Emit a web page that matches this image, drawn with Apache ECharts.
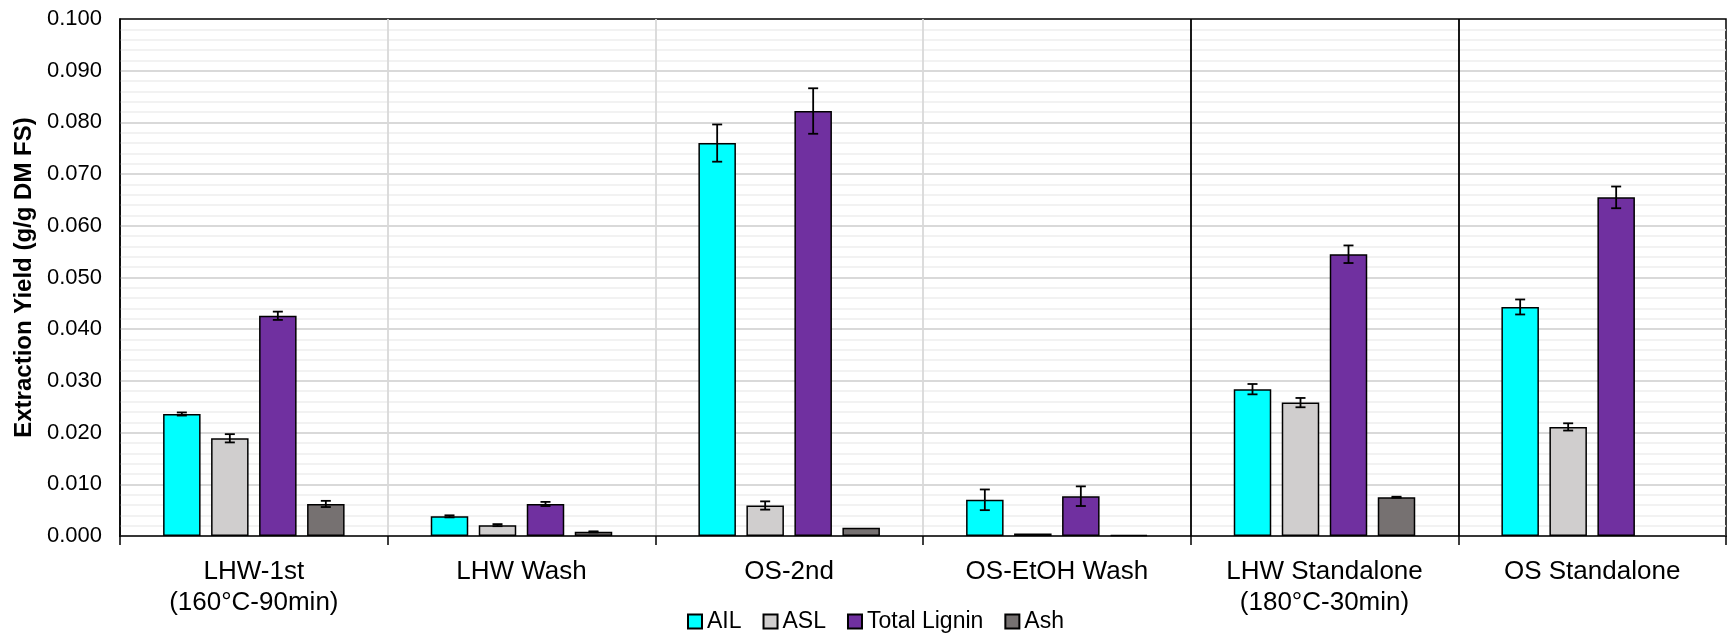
<!DOCTYPE html>
<html>
<head>
<meta charset="utf-8">
<script src="https://cdn.jsdelivr.net/npm/echarts@6/dist/echarts.min.js"></script>
<style>
  html, body { margin: 0; padding: 0; background: #ffffff; }
  #chart { width: 1728px; height: 635px; }
</style>
</head>
<body>
<div id="chart"></div>
<script>
// Process stages (x categories)
const categories = [
  'LHW-1st\n(160°C-90min)',
  'LHW Wash',
  'OS-2nd',
  'OS-EtOH Wash',
  'LHW Standalone\n(180°C-30min)',
  'OS Standalone'
];

// Series names
const seriesNames = ['AIL', 'ASL', 'Total Lignin', 'Ash'];

// Extraction yields (g/g DM FS) and their standard deviations
const ailValues   = [0.0236, 0.0038, 0.0760, 0.0070, 0.0284, 0.0443];
const ailErrors   = [0.0003, 0.0002, 0.0036, 0.0020, 0.0010, 0.00145];
const aslValues   = [0.0189, 0.0021, 0.0059, 0.0005, 0.0258, 0.0211];
const aslErrors   = [0.0008, 0.0002, 0.0008, 0,      0.0009, 0.0007];
const totalValues = [0.0426, 0.0062, 0.0822, 0.0077, 0.0545, 0.0655];
const totalErrors = [0.0008, 0.0004, 0.0044, 0.0019, 0.0017, 0.0021];
const ashValues   = [0.0062, 0.0008, 0.0016, 0.0002, 0.0075, null];
const ashErrors   = [0.0006, 0.0001, 0,      0,      0.0001, null];

// Y axis scale
const yMin = 0;
const yMax = 0.1;
const yStep = 0.01;

const colors = ['#00FFFF', '#D0CECE', '#7030A0', '#767171'];
const FONT = '"Liberation Sans", Arial, sans-serif';
const BAR_WIDTH = 37.5;
const BAR_GAP = 0.28;
const PITCH = BAR_WIDTH * (1 + BAR_GAP);

const valueSets = [ailValues, aslValues, totalValues, ashValues];
const errorSets = [ailErrors, aslErrors, totalErrors, ashErrors];

function barSeries(idx) {
  return {
    name: seriesNames[idx],
    type: 'bar',
    barWidth: BAR_WIDTH,
    barGap: (BAR_GAP * 100) + '%',
    data: valueSets[idx],
    itemStyle: { color: colors[idx], borderColor: '#000', borderWidth: 1.5 },
    emphasis: { disabled: true },
    z: 2
  };
}

// I-beam error bars placed over each bar slot
function errorSeries(idx) {
  const vals = valueSets[idx];
  const errs = errorSets[idx];
  return {
    name: seriesNames[idx] + ' SD',
    type: 'custom',
    z: 5,
    silent: true,
    data: vals.map((v, i) => [i, v == null ? NaN : v, errs[i] == null ? 0 : errs[i]]),
    encode: { x: 0, y: 1 },
    renderItem: function (params, api) {
      const cat = api.value(0);
      const v = api.value(1);
      const e = api.value(2);
      if (isNaN(v) || !e) return null;
      const c = api.coord([cat, v]);
      const hi = api.coord([cat, v + e]);
      const lo = api.coord([cat, v - e]);
      const x = c[0] + (idx - 1.5) * PITCH;
      const cap = 5;
      const st = { stroke: '#000', lineWidth: 1.8 };
      return {
        type: 'group',
        children: [
          { type: 'line', shape: { x1: x, y1: hi[1], x2: x, y2: lo[1] }, style: st },
          { type: 'line', shape: { x1: x - cap, y1: hi[1], x2: x + cap, y2: hi[1] }, style: st },
          { type: 'line', shape: { x1: x - cap, y1: lo[1], x2: x + cap, y2: lo[1] }, style: st }
        ]
      };
    }
  };
}

const chart = echarts.init(document.getElementById('chart'), null, { renderer: 'canvas' });

chart.setOption({
  animation: false,
  backgroundColor: '#ffffff',
  textStyle: { fontFamily: FONT, color: '#000' },
  grid: {
    left: 120, right: 2, top: 19, bottom: 99,
    show: true, borderColor: '#000', borderWidth: 1.5, backgroundColor: 'transparent'
  },
  legend: {
    data: seriesNames,
    left: 682,
    top: 605,
    icon: 'rect',
    itemWidth: 14,
    itemHeight: 14,
    itemGap: 21,
    textStyle: { fontFamily: FONT, fontSize: 23, color: '#000' }
  },
  xAxis: {
    type: 'category',
    data: categories,
    boundaryGap: true,
    axisLine: { show: true, lineStyle: { color: '#000', width: 1.5 } },
    axisTick: { show: true, interval: 0, length: 9, lineStyle: { color: '#000', width: 1.5 } },
    axisLabel: {
      interval: 0, margin: 20, fontFamily: FONT, fontSize: 26, lineHeight: 31, color: '#000'
    },
    splitLine: {
      show: true,
      interval: 0,
      showMinLine: false,
      showMaxLine: false,
      lineStyle: { color: ['#d9d9d9', '#d9d9d9', '#d9d9d9', '#000', '#000'], width: 1.8 }
    }
  },
  yAxis: {
    type: 'value',
    min: yMin,
    max: yMax,
    interval: yStep,
    name: 'Extraction Yield (g/g DM FS)',
    nameLocation: 'middle',
    nameRotate: 90,
    nameGap: 84,
    nameTextStyle: { fontFamily: FONT, fontSize: 24, fontWeight: 'bold', color: '#000' },
    axisLine: { show: true, lineStyle: { color: '#000', width: 1.5 } },
    axisTick: { show: false },
    axisLabel: {
      margin: 18, fontFamily: FONT, fontSize: 22, color: '#000',
      formatter: v => v.toFixed(3)
    },
    splitLine: { show: true, showMaxLine: false, lineStyle: { color: '#d9d9d9', width: 1.8 } },
    minorTick: { show: false, splitNumber: 5 },
    minorSplitLine: { show: true, lineStyle: { color: '#eeeeee', width: 1.5 } }
  },
  series: [0, 1, 2, 3].map(barSeries).concat([0, 1, 2, 3].map(errorSeries))
});
</script>
</body>
</html>
